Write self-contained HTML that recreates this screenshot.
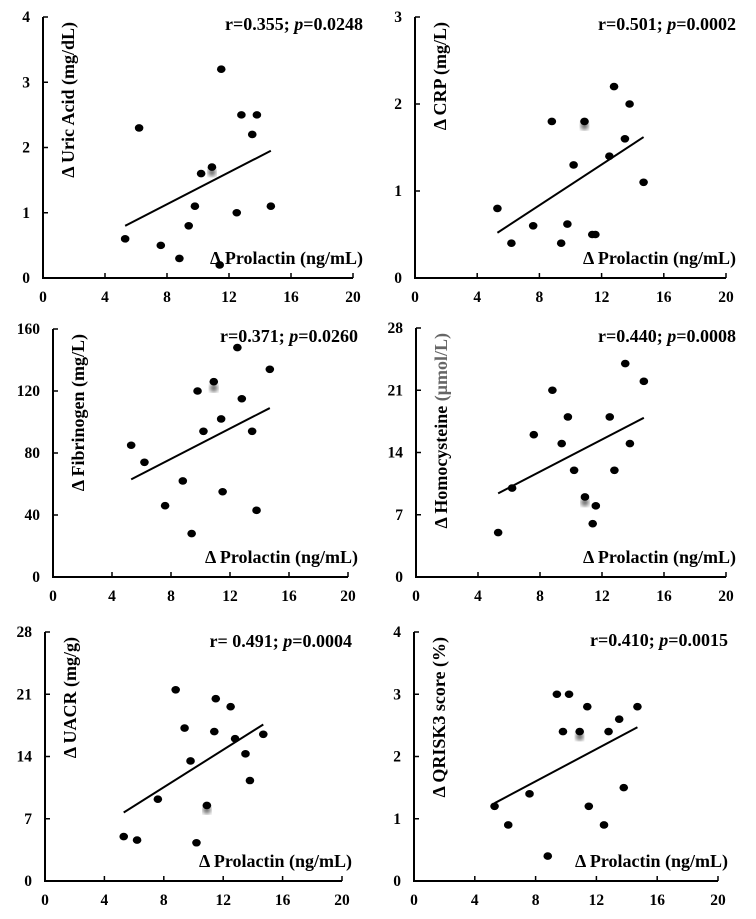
<!DOCTYPE html>
<html><head><meta charset="utf-8"><style>
body{margin:0;background:#fff}
svg{display:block;font-family:"Liberation Serif",serif;font-weight:bold}
</style></head><body>
<svg id="c" width="756" height="919" viewBox="0 0 756 919">
<defs><filter id="bl"><feGaussianBlur stdDeviation="2"/></filter></defs>
</svg>
<script>
const prolactinX = [5.3,6.2,7.6,8.8,9.4,9.8,10.2,10.9,11.4,11.5,12.5,12.8,13.5,13.8,14.7];
const uricVals = [0.6,2.3,0.5,0.3,0.8,1.1,1.6,1.7,0.2,3.2,1.0,2.5,2.2,2.5,1.1];
const crpX = [5.3,6.2,7.6,8.8,9.4,9.8,10.2,10.9,11.4,11.6,12.5,12.8,13.5,13.8,14.7];
const crpVals = [0.8,0.4,0.6,1.8,0.4,0.62,1.3,1.8,0.5,0.5,1.4,2.2,1.6,2.0,1.1];
const fibVals = [85,74,46,62,28,120,94,126,102,55,148,115,94,43,134];
const hcyX = [5.3,6.2,7.6,8.8,9.4,9.8,10.2,10.9,11.4,11.6,12.5,12.8,13.5,13.8,14.7];
const hcyVals = [5,10,16,21,15,18,12,9,6,8,18,12,24,15,22];
const uacrVals = [5,4.6,9.2,21.5,17.2,13.5,4.3,8.5,16.8,20.5,19.6,16,14.3,11.3,16.5];
const qriskVals = [1.2,0.9,1.4,0.4,3.0,2.4,3.0,2.4,2.8,1.2,0.9,2.4,2.6,1.5,2.8];
const xTicks = [0,4,8,12,16,20];
const uricTicks = [0,1,2,3,4];
const crpTicks = [0,1,2,3];
const fibTicks = [0,40,80,120,160];
const hcyTicks = [0,7,14,21,28];
const uacrTicks = [0,7,14,21,28];
const qriskTicks = [0,1,2,3,4];
const trendUric = [0.8,1.95];
const trendCrp = [0.52,1.62];
const trendFib = [63,109];
const trendHcy = [9.4,17.9];
const trendUacr = [7.7,17.6];
const trendQrisk = [1.25,2.47];
const trendX = [5.3,14.7];
const blurY = [1.62,1.75,122,8.4,8,2.32];

const NS="http://www.w3.org/2000/svg";
const svg=document.getElementById('c');
function mk(tag,attrs,parent){const e=document.createElementNS(NS,tag);for(const k in attrs)e.setAttribute(k,attrs[k]);(parent||svg).appendChild(e);return e;}

const panels=[
 {id:'uric-acid',x0:43,x1:353,y0:278,y1:17,ymax:4,xs:prolactinX,ys:uricVals,ticks:uricTicks,trend:trendUric,title:'Δ Uric Acid (mg/dL)',stat:['r=0.355; ','p','=0.0248'],statY:30,blur:blurY[0]},
 {id:'crp',x0:415,x1:726,y0:278,y1:17,ymax:3,xs:crpX,ys:crpVals,ticks:crpTicks,trend:trendCrp,title:'Δ CRP (mg/L)',stat:['r=0.501; ','p','=0.0002'],statY:30,blur:blurY[1]},
 {id:'fibrinogen',x0:53,x1:348,y0:577,y1:329,ymax:160,xs:prolactinX,ys:fibVals,ticks:fibTicks,trend:trendFib,title:'Δ Fibrinogen (mg/L)',stat:['r=0.371; ','p','=0.0260'],statY:342,blur:blurY[2]},
 {id:'homocysteine',x0:416,x1:726,y0:577,y1:328,ymax:28,xs:hcyX,ys:hcyVals,ticks:hcyTicks,trend:trendHcy,title:'Δ Homocysteine (μmol/L)',stat:['r=0.440; ','p','=0.0008'],statY:342,blur:blurY[3]},
 {id:'uacr',x0:45,x1:342,y0:881,y1:632,ymax:28,xs:prolactinX,ys:uacrVals,ticks:uacrTicks,trend:trendUacr,title:'Δ UACR (mg/g)',stat:['r= 0.491; ','p','=0.0004'],statY:647,blur:blurY[4]},
 {id:'qrisk3',x0:414,x1:718,y0:881,y1:632,ymax:4,xs:prolactinX,ys:qriskVals,ticks:qriskTicks,trend:trendQrisk,title:'Δ QRISK3 score (%)',stat:['r=0.410; ','p','=0.0015'],statY:646,blur:blurY[5]}
];

panels.forEach(p=>{
 const g=mk('g',{});
 
 
 const sx=v=>p.x0+(v/20)*(p.x1-p.x0);
 const sy=v=>p.y0-(v/p.ymax)*(p.y0-p.y1);
 const ax=mk('path',{d:`M${p.x0},${p.y1} V${p.y0} H${p.x1}`,stroke:'#000','stroke-width':2,fill:'none'},g);
 
 
 xTicks.forEach(t=>{
  const x=sx(t);
  if(t>0)mk('line',{x1:x,x2:x,y1:p.y0,y2:p.y0-5,stroke:'#000','stroke-width':1.5},g);
  const tl=mk('text',{x:x,y:p.y0+24,'text-anchor':'middle','font-size':15.5},g);
  tl.textContent=t;
  
  
 });
 p.ticks.forEach(t=>{
  const y=sy(t);
  mk('line',{x1:p.x0,x2:p.x0+5,y1:y,y2:y,stroke:'#000','stroke-width':1.5},g);
  const tl=mk('text',{x:p.x0-13,y:y+5,'text-anchor':'end','font-size':15.5},g);
  tl.textContent=t;
  
  
 });
 const bl=mk('circle',{cx:sx(10.9),cy:sy(p.blur),r:4,fill:'#666',filter:'url(#bl)'},g);
 
 
 p.xs.forEach((xv,i)=>{
  const c=mk('ellipse',{cx:sx(xv),cy:sy(p.ys[i]),rx:4.3,ry:3.8,fill:'#000'},g);
  
  
 });
 const tr=mk('line',{x1:sx(trendX[0]),y1:sy(p.trend[0]),x2:sx(trendX[1]),y2:sy(p.trend[1]),stroke:'#000','stroke-width':2},g);
 
 
 const st=mk('text',{x:p.x1+10,y:p.statY,'text-anchor':'end','font-size':18},g);
 
 
 const a=mk('tspan',{},st);a.textContent=p.stat[0];
 const b=mk('tspan',{'font-style':'italic'},st);b.textContent=p.stat[1];
 const c2=mk('tspan',{},st);c2.textContent=p.stat[2];
 const xl=mk('text',{x:p.x1+10,y:p.y0-14,'text-anchor':'end','font-size':18},g);
 xl.textContent='Δ Prolactin (ng/mL)';
 
 
 const tx=p.x0+31, ty=p.y1+5;
 const yl=mk('text',{x:tx,y:ty,'text-anchor':'end','font-size':18,transform:`rotate(-90 ${tx} ${ty})`},g);
 
 
 if(p.id==='homocysteine'){
  const t1=mk('tspan',{},yl);t1.textContent='Δ Homocysteine ';
  const t2=mk('tspan',{fill:'#666'},yl);t2.textContent='(μmol/L)';
 } else yl.textContent=p.title;
});
</script>
</body></html>
